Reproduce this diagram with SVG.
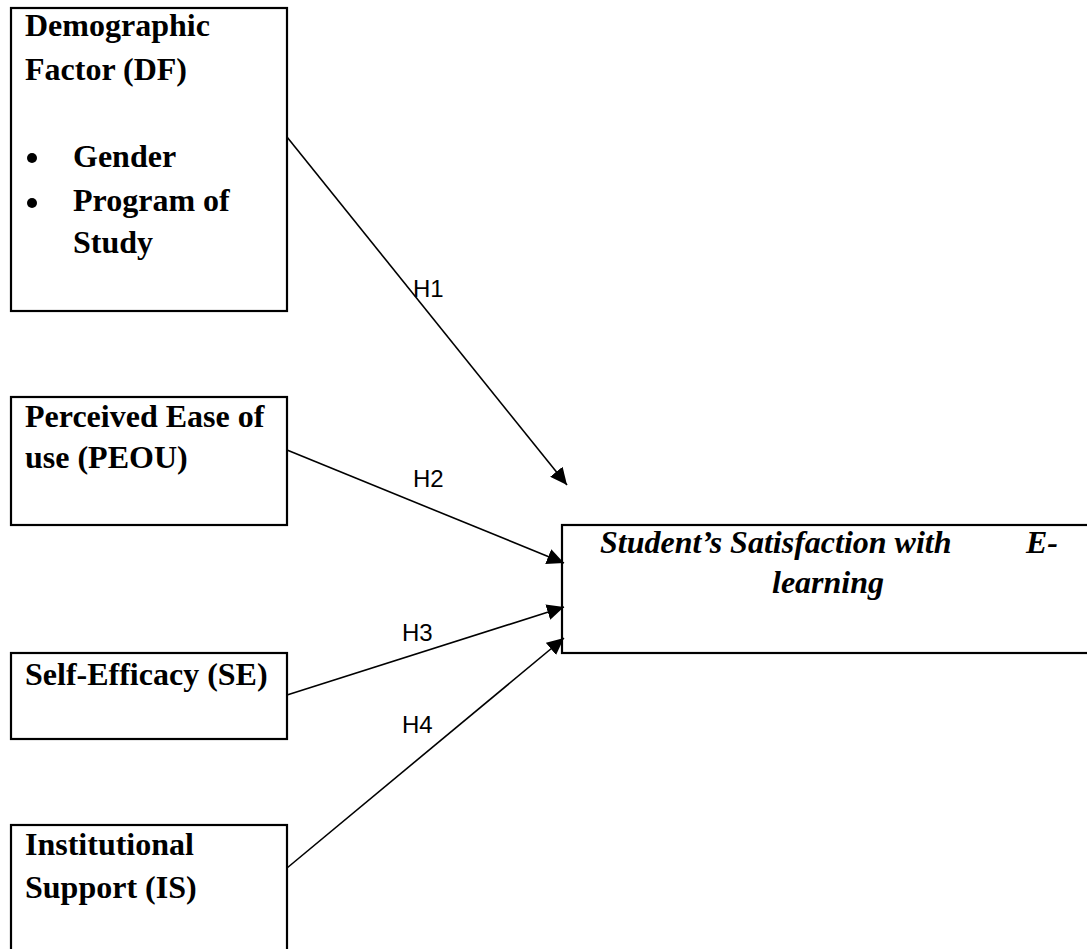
<svg xmlns="http://www.w3.org/2000/svg" width="1087" height="949" viewBox="0 0 1087 949">
<style>
.box{fill:#fff;stroke:#000;stroke-width:2.2}
.t{font-family:"Liberation Serif","Times New Roman",serif;font-weight:bold;font-size:32px;fill:#000}
.ti{font-family:"Liberation Serif","Times New Roman",serif;font-weight:bold;font-style:italic;font-size:32px;fill:#000}
.lbl{font-family:"Liberation Sans",Arial,sans-serif;font-size:24px;fill:#000}
.con{stroke:#000;stroke-width:1.6;fill:none;marker-end:url(#arr)}
</style>
<defs>
<marker id="arr" markerUnits="userSpaceOnUse" markerWidth="18" markerHeight="16" viewBox="0 0 18 16" refX="17" refY="8" orient="auto">
<path d="M0,0 L17,8 L0,16 z" fill="#000"/>
</marker>
</defs>
<rect width="1087" height="949" fill="#fff"/>
<g id="node-df">
<rect class="box" x="11" y="8" width="276" height="303"/>
<text class="t" x="25" y="36">Demographic</text>
<text class="t" x="25" y="80">Factor (DF)</text>
<circle cx="32" cy="158" r="5"/>
<text class="t" x="73" y="167">Gender</text>
<circle cx="32" cy="203" r="5"/>
<text class="t" x="73" y="211">Program of</text>
<text class="t" x="73" y="253">Study</text>
</g>
<g id="node-peou">
<rect class="box" x="11" y="397" width="276" height="128"/>
<text class="t" x="25" y="427">Perceived Ease of</text>
<text class="t" x="25" y="468">use (PEOU)</text>
</g>
<g id="node-se">
<rect class="box" x="11" y="653" width="276" height="86"/>
<text class="t" x="25" y="685">Self-Efficacy (SE)</text>
</g>
<g id="node-is">
<rect class="box" x="11" y="825" width="276" height="140"/>
<text class="t" x="25" y="855">Institutional</text>
<text class="t" x="25" y="898">Support (IS)</text>
</g>
<g id="node-ss">
<rect class="box" x="562" y="525" width="540" height="128"/>
<text class="ti" x="600" y="553">Student’s Satisfaction with</text>
<text class="ti" x="1026" y="553">E-</text>
<text class="ti" x="772" y="593">learning</text>
</g>
<g id="connectors">
<line class="con" x1="287" y1="137" x2="567" y2="485"/>
<line class="con" x1="287" y1="450" x2="564" y2="563"/>
<line class="con" x1="287" y1="695" x2="564" y2="607"/>
<line class="con" x1="287" y1="868" x2="564" y2="638"/>
<text class="lbl" x="413" y="297">H1</text>
<text class="lbl" x="413" y="487">H2</text>
<text class="lbl" x="402" y="641">H3</text>
<text class="lbl" x="402" y="733">H4</text>
</g>
</svg>
